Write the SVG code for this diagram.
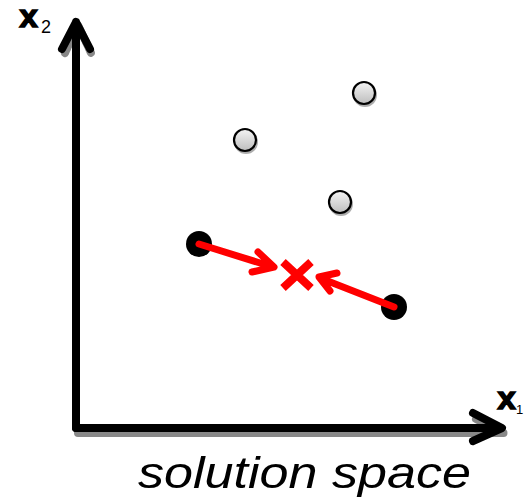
<svg xmlns="http://www.w3.org/2000/svg" width="526" height="502" viewBox="0 0 526 502">
<style>
.axis{stroke:#000;stroke-width:8;fill:none;stroke-linecap:round;stroke-linejoin:round}
.shadow{stroke:#888;stroke-width:8;fill:none;stroke-dasharray:2 1.5;stroke-linecap:round;stroke-linejoin:round}
.red{stroke:#ff0000;stroke-width:7;fill:none;stroke-linecap:round;stroke-linejoin:round}
.xl{font-family:"Liberation Mono",monospace;font-weight:bold;font-size:32px;fill:#000;stroke:#000;stroke-width:1.6}
.sub{font-family:"Liberation Sans",Arial,sans-serif;font-size:18px;fill:#000}
.cap{font-family:"Liberation Sans",Arial,sans-serif;font-style:italic;font-size:45px;fill:#000}
.gray{fill:url(#g);stroke:#000;stroke-width:2.2}
.blk{fill:#000}
</style>
<defs>
<linearGradient id="g" x1="0" y1="0" x2="0" y2="1">
<stop offset="0" stop-color="#f4f4f4"/>
<stop offset="1" stop-color="#bdbdbd"/>
</linearGradient>
</defs>
<g id="axes">
<path class="shadow" d="M77 432 L503 432 M475 418 L503 432 M64 52 L77 24 L90 52" transform="translate(1,1)"/>
<path class="axis" d="M76 428 L76 22 M62 49 L76 22 L90 49"/>
<path class="axis" d="M76 428 L501 428 M473 413 L502 428 L473 441"/>
</g>
<g id="label-x2"><text class="xl" x="19" y="27">x</text><text class="sub" x="41" y="33">2</text></g>
<g id="label-x1"><text class="xl" x="497" y="409">x</text><text class="sub" x="516" y="414" style="font-size:13px">1</text></g>
<g id="p1"><circle cx="246" cy="142" r="12" fill="#777" opacity="0.6"/><circle class="gray" cx="245" cy="140" r="11"/></g>
<g id="p2"><circle cx="365" cy="95" r="12" fill="#777" opacity="0.6"/><circle class="gray" cx="364" cy="93" r="11"/></g>
<g id="p3"><circle cx="341" cy="204" r="12" fill="#777" opacity="0.6"/><circle class="gray" cx="340" cy="202" r="11"/></g>
<g id="a"><circle class="blk" cx="199" cy="244" r="13"/></g>
<g id="b"><circle class="blk" cx="394" cy="307" r="13"/></g>
<g id="connectors">
<path class="red" d="M199 244 L273 267 M258 252 L274 267 L252 272"/>
<path class="red" d="M394 307 L320 278 M337 273 L319 277 L330 291"/>
</g>
<g id="mid"><path class="red" d="M283 262 L311 288 M311 262 L283 288" style="stroke-width:8;stroke-linecap:butt"/></g>
<g id="caption"><text class="cap" x="138" y="488" textLength="333" lengthAdjust="spacingAndGlyphs">solution space</text></g>
</svg>
